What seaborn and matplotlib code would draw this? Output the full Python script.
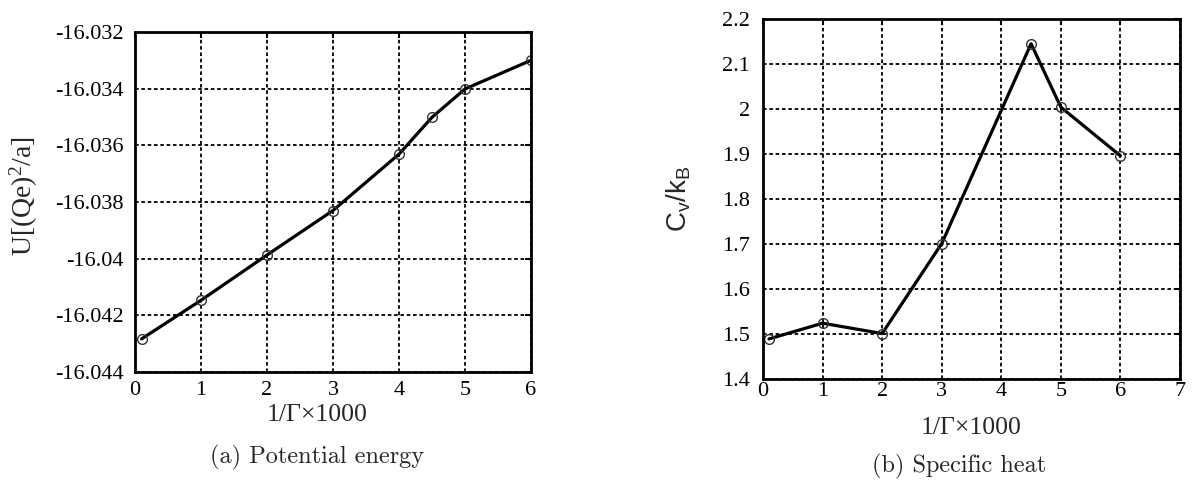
import matplotlib
matplotlib.use("Agg")
import matplotlib.pyplot as plt
import seaborn as sns
from matplotlib.ticker import FuncFormatter, MultipleLocator

# ---- data ----
x_u = [0.1, 1, 2, 3, 4, 4.5, 5, 6]
u_vals = [-16.04283, -16.04147, -16.03987, -16.03830, -16.03631, -16.03501, -16.03401, -16.03300]

x_cv = [0.1, 1, 2, 3, 4.5, 5, 6]
cv_vals = [1.489, 1.524, 1.501, 1.701, 2.145, 2.004, 1.896]

xlabel_text = "1/\u0393\u00d71000"
caption_a = "(a) Potential energy"
caption_b = "(b) Specific heat"

sns.set_style("white")
plt.rcParams['font.family'] = ['Liberation Serif', 'DejaVu Serif']
plt.rcParams['mathtext.default'] = 'regular'

W, H = 1196, 484
fig = plt.figure(figsize=(W / 100, H / 100), dpi=100)
axL = fig.add_axes([135 / W, 1 - 372 / H, 396 / W, 340 / H])
axR = fig.add_axes([763 / W, 1 - 379 / H, 417 / W, 360 / H])

fmt = FuncFormatter(lambda v, p: "%g" % round(v, 6))

def style(ax, xpad, ypad):
    for s in ax.spines.values():
        s.set_linewidth(2.0)
        s.set_color('black')
    ax.grid(True, color='black', linestyle=(0, (2, 1.5)), linewidth=1.3)
    ax.tick_params(direction='in', top=True, right=True, length=4, width=1.5,
                   labelsize=16, colors='black')
    ax.tick_params(axis='x', pad=xpad)
    ax.tick_params(axis='y', pad=ypad)
    ax.yaxis.set_major_formatter(fmt)
    ax.xaxis.set_major_formatter(fmt)
    ax.set_axisbelow(True)

line_kw = dict(color='black', linewidth=2.3, marker='o', markersize=7,
               markerfacecolor='none', markeredgecolor='#333333', markeredgewidth=1.0)

sns.lineplot(x=x_u, y=u_vals, ax=axL, **line_kw)
axL.set_xlim(0, 6)
axL.set_ylim(-16.044, -16.032)
axL.xaxis.set_major_locator(MultipleLocator(1))
axL.yaxis.set_major_locator(MultipleLocator(0.002))
style(axL, xpad=6.5, ypad=8)
axL.set_xlabel(xlabel_text, fontsize=18.5, labelpad=3)
axL.xaxis.label.set_x(0.46)
axL.set_ylabel(r"U[(Qe)$^{2}$/a]", fontsize=20, labelpad=11)
axL.yaxis.label.set_y(0.518)

sns.lineplot(x=x_cv, y=cv_vals, ax=axR, **line_kw)
axR.set_xlim(0, 7)
axR.set_ylim(1.4, 2.2)
axR.xaxis.set_major_locator(MultipleLocator(1))
axR.yaxis.set_major_locator(MultipleLocator(0.1))
style(axR, xpad=2, ypad=9.5)
axR.set_xlabel(xlabel_text, fontsize=18.5, labelpad=12)
axR.set_ylabel(r"C$_{v}$/k$_{B}$", fontsize=20, labelpad=21,
               family=['Liberation Sans', 'DejaVu Sans'])

fig.text(317 / W, 1 - 457 / H, caption_a, ha='center', va='center', fontsize=17.5,
         family=['cmr10', 'DejaVu Serif'])
fig.text(959 / W, 1 - 466 / H, caption_b, ha='center', va='center', fontsize=17.5,
         family=['cmr10', 'DejaVu Serif'])

fig.savefig("out.png", dpi=100)
